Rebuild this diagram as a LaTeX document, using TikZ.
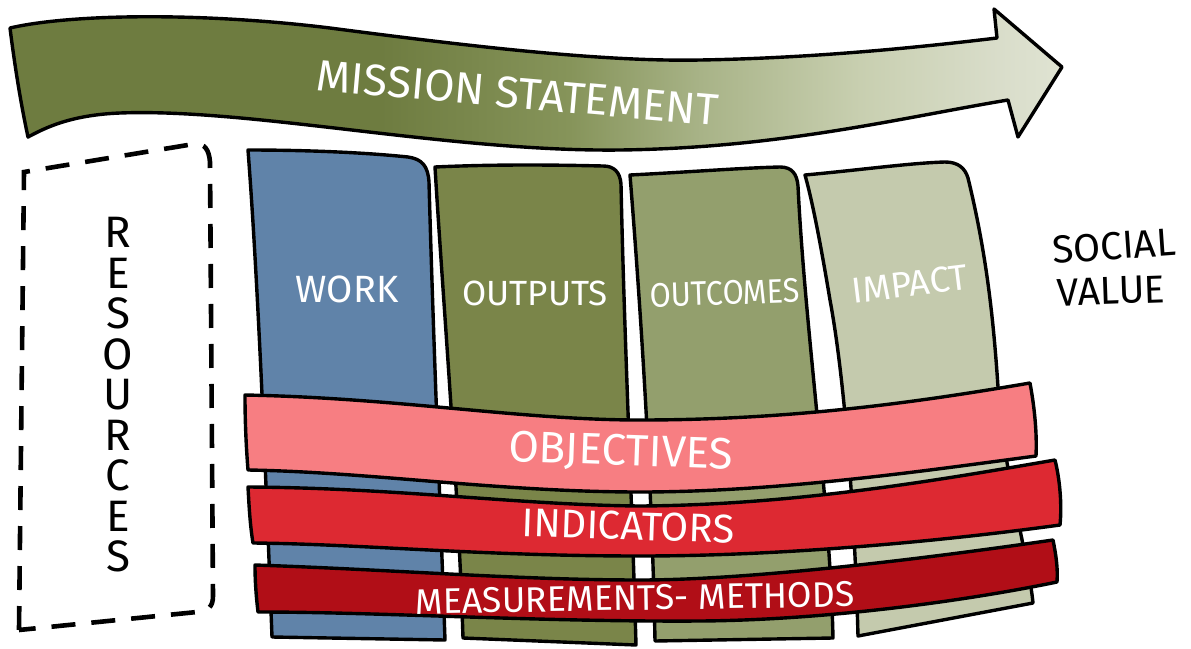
\documentclass[tikz,border=0pt]{standalone}
\usepackage{fontspec}
\newfontfamily\hand{Fira Sans}
\newfontfamily\handn[FakeStretch=0.9]{Fira Sans}
\definecolor{workc}{HTML}{6083A9}
\definecolor{outpc}{HTML}{7A8549}
\definecolor{outcc}{HTML}{939F6D}
\definecolor{impc}{HTML}{C4CAAD}
\definecolor{objc}{HTML}{F77E82}
\definecolor{indc}{HTML}{DD2932}
\definecolor{measc}{HTML}{B10E17}
\definecolor{arrA}{HTML}{6E7C40}
\definecolor{arrB}{HTML}{86945A}
\definecolor{arrC}{HTML}{A8B387}
\definecolor{arrD}{HTML}{C8CFB0}
\definecolor{arrE}{HTML}{D9DDCA}
\definecolor{arrF}{HTML}{DFE3D2}
\pgfdeclarehorizontalshading{missionshade}{100bp}{color(0bp)=(arrA); color(42.6bp)=(arrA); color(51.6bp)=(arrB); color(57.8bp)=(arrC); color(65.4bp)=(arrD); color(72bp)=(arrE); color(75bp)=(arrF); color(100bp)=(arrF)}
\tikzset{
  outline/.style={draw=black, line width=1.7pt, line join=round},
  wlab/.style={text=white, font=\hand\fontsize{19}{21}\selectfont, inner sep=0pt},
  klab/.style={text=black, font=\hand\fontsize{21}{22}\selectfont, inner sep=0pt, align=center},
}
\begin{document}
\begin{tikzpicture}[x=0.5pt,y=-0.5pt]
\useasboundingbox (0,0) rectangle (1191,649);
% mission arrow
\path[outline, shading=missionshade]
  (10,28) .. controls (70,14) and (200,12) .. (330,28)
  .. controls (460,45) and (600,62) .. (700,60)
  .. controls (820,58) and (930,46) .. (997,38)
  -- (994,9) -- (1062,67) -- (1018,137) -- (1008,100)
  .. controls (900,118) and (780,148) .. (620,150)
  .. controls (450,152) and (250,108) .. (120,113)
  .. controls (70,115) and (45,128) .. (28,137)
  .. controls (20,100) and (14,60) .. (10,28) -- cycle;
\node[wlab, font=\hand\fontsize{22}{24}\selectfont, rotate=-5] (mission) at (518,93) {MISSION STATEMENT};
% resources dashed box
\draw[line width=2.3pt, dash pattern=on 12pt off 8pt]
  (19,630) -- (24,172) -- (194,144) .. controls (205,143) and (209,150) .. (210,162)
  -- (213,596) .. controls (213,607) and (208,611) .. (197,612) -- cycle;
\node[klab, font=\hand\fontsize{22}{20.25}\selectfont] (res) at (118,395) {R\\E\\S\\O\\U\\R\\C\\E\\S};
% columns
\path[outline, fill=workc]
  (248,150) .. controls (300,150) and (360,152) .. (408,157)
  .. controls (422,159) and (428,166) .. (429,182)
  .. controls (433,330) and (440,500) .. (445,640)
  -- (272,637) .. controls (266,480) and (258,280) .. (248,150) -- cycle;
\path[outline, fill=outpc]
  (435,167) .. controls (500,164) and (560,165) .. (603,166)
  .. controls (614,166) and (620,172) .. (621,184)
  .. controls (624,330) and (632,500) .. (636,645)
  -- (463,638) .. controls (458,480) and (443,300) .. (435,167) -- cycle;
\path[outline, fill=outcc]
  (630,175) .. controls (690,172) and (740,168) .. (780,167)
  .. controls (792,167) and (797,174) .. (798,186)
  .. controls (805,330) and (830,500) .. (833,638)
  -- (655,641) .. controls (652,480) and (640,300) .. (630,175) -- cycle;
\path[outline, fill=impc]
  (805,175) .. controls (860,170) and (910,163) .. (945,162)
  .. controls (958,162) and (965,168) .. (968,178)
  .. controls (988,260) and (995,330) .. (1000,420)
  .. controls (1012,500) and (1030,570) .. (1033,603)
  -- (858,636) .. controls (855,520) and (845,380) .. (830,300)
  .. controls (820,240) and (812,200) .. (805,175) -- cycle;
\node[wlab] (work) at (347,289) {WORK};
\node[wlab, font=\hand\fontsize{17.5}{19}\selectfont] (outputs) at (535,293) {OUTPUTS};
\node[wlab, font=\handn\fontsize{17}{19}\selectfont, rotate=2] (outcomes) at (725,293) {OUTCOMES};
\node[wlab, font=\hand\fontsize{18}{19}\selectfont, rotate=7] (impact) at (910,284) {IMPACT};
% bands
\path[outline, fill=objc]
  (245,395) .. controls (400,398) and (520,420) .. (640,420)
  .. controls (800,420) and (930,400) .. (1030,383)
  .. controls (1035,410) and (1037,435) .. (1036,456)
  .. controls (930,470) and (780,492) .. (640,492)
  .. controls (500,492) and (370,472) .. (248,470)
  .. controls (246,445) and (245,420) .. (245,395) -- cycle;
\path[outline, fill=indc]
  (248,487) .. controls (400,488) and (520,505) .. (640,506)
  .. controls (800,505) and (950,478) .. (1055,460)
  .. controls (1060,480) and (1062,505) .. (1060,525)
  .. controls (950,540) and (790,556) .. (640,556)
  .. controls (480,556) and (360,544) .. (253,543)
  .. controls (250,525) and (249,505) .. (248,487) -- cycle;
\path[outline, fill=measc]
  (255,565) .. controls (400,570) and (520,580) .. (640,580)
  .. controls (760,580) and (950,555) .. (1053,540)
  .. controls (1056,555) and (1058,568) .. (1057,582)
  .. controls (970,600) and (830,620) .. (700,621)
  .. controls (540,622) and (380,612) .. (258,612)
  .. controls (256,595) and (255,580) .. (255,565) -- cycle;
\node[wlab, font=\hand\fontsize{22}{24}\selectfont, rotate=-2] (obj) at (621,453) {OBJECTIVES};
\node[wlab, font=\hand\fontsize{20}{22}\selectfont, rotate=-2] (ind) at (628,526) {INDICATORS};
\node[wlab, font=\hand\fontsize{17.8}{20}\selectfont, rotate=1] (meas) at (635,598) {MEASUREMENTS- METHODS};
\node[klab, font=\hand\fontsize{19.5}{21}\selectfont, rotate=4] (social) at (1114,246) {SOCIAL};
\node[klab, font=\hand\fontsize{19.5}{21}\selectfont, rotate=2] (value) at (1111,291) {VALUE};
\end{tikzpicture}
\end{document}
